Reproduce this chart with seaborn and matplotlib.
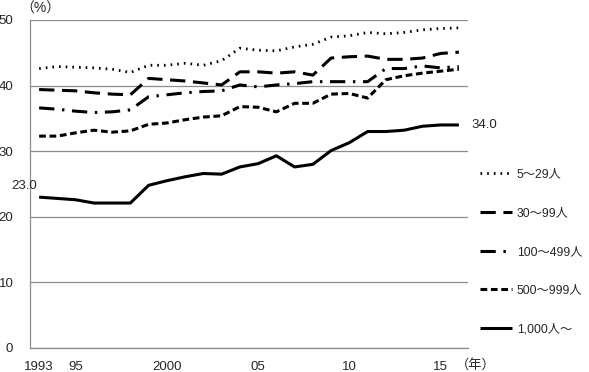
import matplotlib
matplotlib.use("Agg")
import matplotlib.pyplot as plt
import pandas as pd
import seaborn as sns

years = list(range(1993, 2017))
tick_years = [1993, 1995, 2000, 2005, 2010, 2015]
tick_labels = ["1993", "95", "2000", "05", "10", "15"]

size_labels = ["5～29人", "30～99人", "100～499人", "500～999人", "1,000人～"]
s5_29 = [42.6, 42.9, 42.8, 42.7, 42.5, 42.0, 43.1, 43.1, 43.4, 43.1, 43.8, 45.7,
         45.4, 45.3, 45.9, 46.3, 47.4, 47.6, 48.1, 47.9, 48.1, 48.5, 48.7, 48.8]
s30_99 = [39.4, 39.3, 39.2, 38.9, 38.7, 38.6, 41.1, 40.9, 40.7, 40.4, 40.1, 42.1,
          42.1, 41.9, 42.1, 41.6, 44.2, 44.4, 44.5, 44.0, 44.0, 44.2, 44.9, 45.1]
s100_499 = [36.6, 36.4, 36.1, 35.9, 36.0, 36.3, 38.3, 38.6, 38.9, 39.1, 39.2, 40.1,
            39.8, 40.1, 40.3, 40.6, 40.6, 40.6, 40.6, 42.6, 42.6, 43.0, 42.7, 42.9]
s500_999 = [32.3, 32.3, 32.8, 33.2, 32.9, 33.1, 34.1, 34.3, 34.8, 35.2, 35.4, 36.8,
            36.7, 36.0, 37.3, 37.3, 38.7, 38.8, 38.1, 40.9, 41.5, 41.9, 42.2, 42.5]
s1000 = [23.0, 22.8, 22.6, 22.1, 22.1, 22.1, 24.8, 25.5, 26.1, 26.6, 26.5, 27.6,
         28.1, 29.3, 27.6, 28.0, 30.1, 31.3, 33.0, 33.0, 33.2, 33.8, 34.0, 34.0]

series = [s5_29, s30_99, s100_499, s500_999, s1000]
styles = [
    dict(linestyle=(0, (0.6, 1.8)), linewidth=2.0),
    dict(linestyle=(0, (5, 2.5)), linewidth=2.2),
    dict(linestyle=(0, (5, 2.5, 0.8, 2.5)), linewidth=2.2),
    dict(linestyle=(0, (2.2, 1.2)), linewidth=2.2),
    dict(linestyle="-", linewidth=2.2),
]

sns.set_style("white")
plt.rcParams["font.family"] = ["Liberation Sans", "Noto Sans CJK JP", "DejaVu Sans"]

fig = plt.figure(figsize=(5.89, 3.72), dpi=100)
ax = fig.add_axes([30 / 589, 24 / 372, 438 / 589, 328 / 372])

x_pos = list(range(len(years)))
for label, values, st in zip(size_labels, series, styles):
    df = pd.DataFrame({"x": x_pos, "y": values})
    sns.lineplot(data=df, x="x", y="y", ax=ax, color="black", label=label,
                 solid_capstyle="butt", dash_capstyle="butt", **st)

ax.set_xlim(-0.5, len(years) - 0.5)
ax.set_ylim(0, 50)
ax.set_yticks(range(0, 51, 10))
ax.grid(axis="y", color="#8c8c8c", linewidth=0.9)
ax.grid(axis="x", visible=False)
for side in ["top", "right"]:
    ax.spines[side].set_visible(False)
for side in ["left", "bottom"]:
    ax.spines[side].set_color("#8c8c8c")
    ax.spines[side].set_linewidth(0.9)

ax.set_xticks([years.index(y) for y in tick_years])
ax.set_xticklabels(tick_labels)
ax.set_xticks([i - 0.5 for i in range(len(years) + 1)], minor=True)
ax.tick_params(axis="x", which="major", length=0, pad=9, labelsize=9.5)
ax.tick_params(axis="x", which="minor", length=4, color="#8c8c8c", width=0.9)
ax.tick_params(axis="y", length=0, pad=12, labelsize=9.5)
ax.set_xlabel("")
ax.set_ylabel("")

ax.annotate(f"{s1000[0]:.1f}", (0, s1000[0]), xytext=(-20, 4), textcoords="offset points",
            fontsize=9.5, ha="left", va="bottom")
ax.annotate(f"{s1000[-1]:.1f}", (len(years) - 1, s1000[-1]), xytext=(9, 0),
            textcoords="offset points", fontsize=9.5, ha="left", va="center",
            annotation_clip=False)

fig.text(20 / 589, 1 - 9 / 372, "（%）", fontsize=10, ha="left", va="center")
fig.text(456 / 589, 1 - 365 / 372, "（年）", fontsize=9.5, ha="left", va="center")

ax.legend(loc="upper left", bbox_to_anchor=(480 / 589, 1 - 168 / 372),
          bbox_transform=fig.transFigure, frameon=False, fontsize=8.8,
          handlelength=2.6, handletextpad=0.4, labelspacing=2.2,
          borderpad=0, borderaxespad=0)

fig.savefig("out.png", dpi=100)
